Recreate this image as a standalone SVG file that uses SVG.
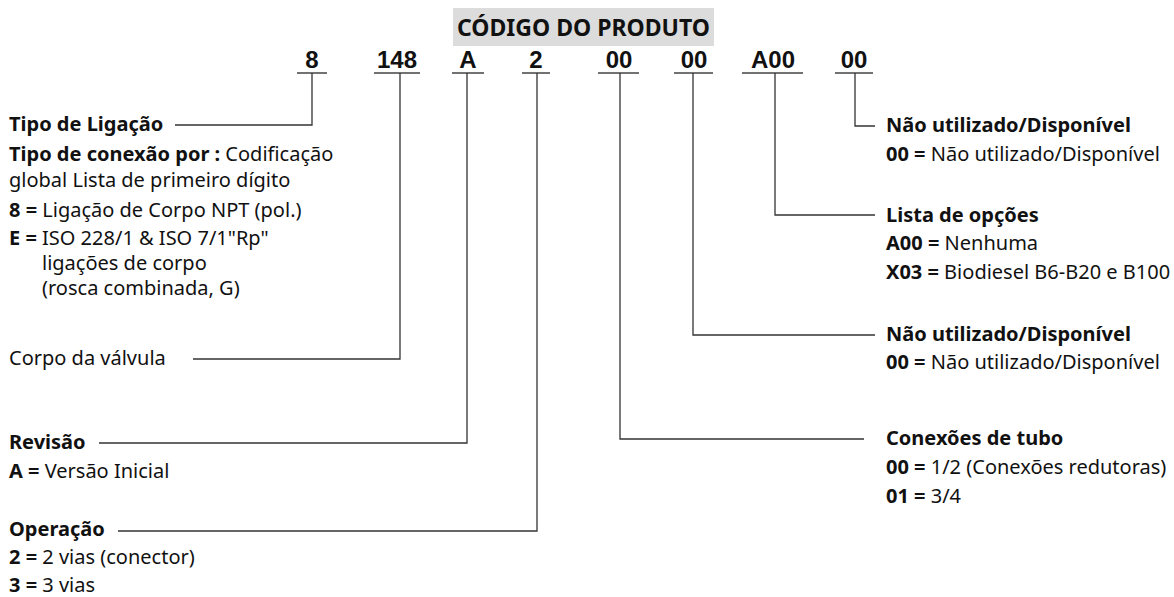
<svg xmlns="http://www.w3.org/2000/svg" width="1174" height="597" viewBox="0 0 1174 597">
<style>
text{font-family:"Noto Sans","Open Sans","DejaVu Sans",sans-serif;font-size:20px;fill:#111}
.b{font-weight:700}
.code{font-family:"Liberation Sans",Arial,sans-serif;font-size:24px;font-weight:700;text-anchor:middle}
.hdr{font-size:23px;font-weight:700}
.ul{stroke:#444;stroke-width:1.6;fill:none}
.cn{stroke:#333;stroke-width:1.3;fill:none}
</style>
<rect x="453" y="8" width="261" height="38" fill="#dcdcdc"/>
<text class="hdr" x="583.5" y="36" text-anchor="middle">CÓDIGO DO PRODUTO</text>
<g id="code">
<text class="code" x="312" y="68">8</text>
<text class="code" x="397" y="68">148</text>
<text class="code" x="468" y="68">A</text>
<text class="code" x="536" y="68">2</text>
<text class="code" x="619" y="68">00</text>
<text class="code" x="694" y="68">00</text>
<text class="code" x="773" y="68">A00</text>
<text class="code" x="854" y="68">00</text>
<path class="ul" d="M297 73H327M374 73H420M452 73H484M522 73H550M598 73H639M674 73H713M742 73H803M835 73H873"/>
</g>
<g id="connectors">
<path class="cn" d="M312 73V125H175"/>
<path class="cn" d="M400 73V359H193"/>
<path class="cn" d="M467 73V443H99"/>
<path class="cn" d="M537 73V531H118"/>
<path class="cn" d="M620 73V439H864"/>
<path class="cn" d="M693 73V335H875"/>
<path class="cn" d="M775 73V215H875"/>
<path class="cn" d="M855 73V126H875"/>
</g>
<g id="tipo-ligacao">
<text class="b" x="9" y="131">Tipo de Ligação</text>
<text x="9" y="161"><tspan class="b">Tipo de conexão por :</tspan> Codificação</text>
<text x="9" y="187">global Lista de primeiro dígito</text>
<text x="9" y="217"><tspan class="b">8 =</tspan> Ligação de Corpo NPT (pol.)</text>
<text x="9" y="245"><tspan class="b">E =</tspan> ISO 228/1 &amp; ISO 7/1"Rp"</text>
<text x="42" y="270">ligações de corpo</text>
<text x="42" y="295">(rosca combinada, G)</text>
</g>
<g id="corpo">
<text x="9" y="365">Corpo da válvula</text>
</g>
<g id="revisao">
<text class="b" x="9" y="449">Revisão</text>
<text x="9" y="478"><tspan class="b">A =</tspan> Versão Inicial</text>
</g>
<g id="operacao">
<text class="b" x="9" y="536">Operação</text>
<text x="9" y="564"><tspan class="b">2 =</tspan> 2 vias (conector)</text>
<text x="9" y="592"><tspan class="b">3 =</tspan> 3 vias</text>
</g>
<g id="nao-utilizado-1">
<text class="b" x="886" y="132">Não utilizado/Disponível</text>
<text x="886" y="161"><tspan class="b">00 =</tspan> Não utilizado/Disponível</text>
</g>
<g id="lista-opcoes">
<text class="b" x="886" y="222">Lista de opções</text>
<text x="886" y="250"><tspan class="b">A00 =</tspan> Nenhuma</text>
<text x="886" y="279"><tspan class="b">X03 =</tspan> Biodiesel B6-B20 e B100</text>
</g>
<g id="nao-utilizado-2">
<text class="b" x="886" y="341">Não utilizado/Disponível</text>
<text x="886" y="369"><tspan class="b">00 =</tspan> Não utilizado/Disponível</text>
</g>
<g id="conexoes-tubo">
<text class="b" x="886" y="445">Conexões de tubo</text>
<text x="886" y="474"><tspan class="b">00 =</tspan> 1/2 (Conexões redutoras)</text>
<text x="886" y="503"><tspan class="b">01 =</tspan> 3/4</text>
</g>
</svg>
